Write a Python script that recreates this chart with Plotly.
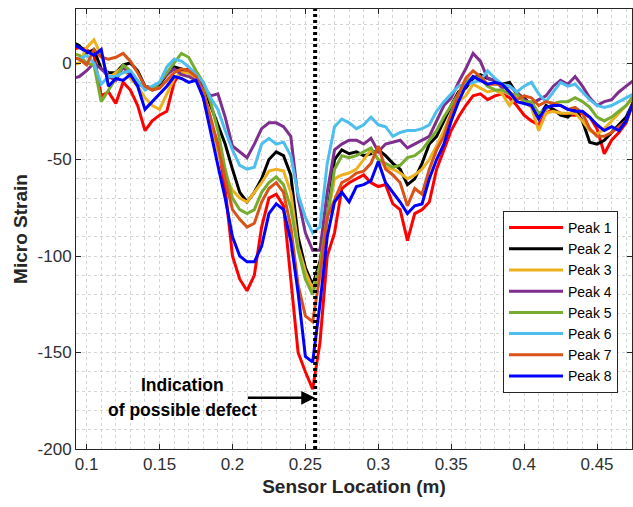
import plotly.graph_objects as go

x_loc = [round(0.09 + 0.005 * i, 3) for i in range(78)]

peak1 = [7, 8, 7, 4, -17, -15, -21, -10, -14, -22, -35, -30, -27, -25, -10, -4, -3, -5, -18, -30,
         -42, -65, -100, -112, -118, -110, -85, -70, -68, -74, -112, -150, -160, -169, -145, -100, -88, -65, -62, -60,
         -58, -62, -64, -63, -73, -76, -92, -78, -76, -72, -55, -45, -35, -28, -22, -17, -16, -19, -17, -16,
         -18, -22, -27, -30, -32, -26, -24, -26, -27, -27, -26, -28, -34, -47, -40, -36, -31, -20]
peak2 = [11, 9, 5, 7, -3, -5, -5, -1, 0, -4, -12, -13, -11, -6, -2, -3, -5, -8, -12, -22,
         -31, -42, -55, -67, -72, -67, -60, -50, -46, -48, -58, -90, -106, -115, -103, -80, -50, -45, -47, -46,
         -48, -47, -45, -48, -52, -55, -63, -60, -52, -42, -38, -30, -22, -15, -13, -8, -6, -8, -9, -11,
         -10, -16, -18, -22, -28, -22, -24, -27, -28, -24, -30, -41, -42, -40, -36, -32, -28, -20]
peak3 = [-1, 0, 8, 12, 4, -8, -5, -2, -8, -12, -18, -22, -24, -16, -8, -5, -5, -8, -14, -30,
         -46, -58, -66, -70, -72, -67, -62, -56, -55, -56, -67, -95, -108, -117, -105, -80, -60, -58, -57, -55,
         -50, -45, -50, -54, -55, -57, -60, -58, -55, -50, -43, -35, -26, -20, -17, -11, -13, -15, -14, -16,
         -22, -17, -20, -23, -35, -26, -25, -26, -26, -26, -30, -35, -37, -34, -30, -26, -22, -18]
peak4 = [-8, -7, -4, 0, -3, -7, -9, -2, -6, -11, -12, -13, -10, -6, -3, -6, -7, -9, -12, -17,
         -16, -28, -43, -46, -49, -42, -34, -31, -31, -33, -38, -70, -88, -97, -97, -67, -45, -42, -40, -40,
         -42, -39, -46, -42, -41, -40, -44, -42, -40, -38, -30, -22, -18, -10, -3, 5, 1, -8, -9, -13,
         -12, -15, -19, -21, -19, -17, -12, -9, -11, -7, -12, -18, -22, -20, -19, -15, -12, -9]
peak5 = [5, 4, 0, -1, -20, -14, -8, -1, -4, -10, -12, -14, -10, -5, 0, 5, 3, -4, -10, -20,
         -35, -55, -70, -76, -78, -76, -67, -62, -59, -63, -75, -97, -112, -120, -105, -80, -55, -48, -49, -48,
         -46, -44, -50, -52, -54, -53, -49, -48, -45, -40, -35, -28, -22, -16, -10, -7, -8, -12, -14, -14,
         -16, -16, -20, -20, -26, -24, -21, -20, -20, -18, -20, -23, -28, -30, -28, -25, -22, -17]
peak6 = [3, 2, 4, 0, -11, -7, -7, -5, -4, -9, -14, -12, -10, -2, 2, 1, -2, -6, -10, -18,
         -24, -35, -45, -53, -55, -54, -42, -39, -42, -41, -48, -68, -80, -88, -85, -52, -33, -29, -31, -34,
         -32, -28, -32, -33, -38, -36, -35, -35, -34, -32, -25, -20, -16, -12, -11, -10, -9, -4, -8, -11,
         -12, -15, -12, -10, -16, -20, -15, -10, -12, -11, -15, -19, -22, -23, -22, -20, -18, -16]
peak7 = [3, 2, -1, 7, 3, 2, 3, 5, 1, -5, -12, -14, -13, -9, -5, -3, -4, -7, -15, -28,
         -43, -60, -76, -81, -85, -83, -72, -65, -62, -67, -85, -115, -131, -134, -110, -80, -71, -62, -60, -57,
         -56, -52, -43, -55, -58, -62, -74, -65, -68, -55, -45, -38, -26, -16, -8, -4, -7, -11, -11, -11,
         -15, -19, -17, -18, -22, -20, -21, -22, -24, -23, -26, -34, -38, -38, -36, -33, -30, -20]
peak8 = [10, 8, 6, 4, 7, -12, -8, -9, -6, -12, -24, -20, -16, -12, -7, -8, -10, -9, -18, -36,
         -53, -70, -90, -100, -103, -103, -95, -78, -73, -76, -92, -119, -152, -155, -125, -90, -72, -67, -72, -64,
         -63, -61, -51, -62, -67, -72, -78, -74, -73, -60, -50, -42, -30, -20, -12, -7, -9, -11, -10, -11,
         -15, -20, -21, -22, -29, -23, -22, -22, -24, -25, -25, -28, -32, -35, -33, -35, -30, -20]

series_names = ["Peak 1", "Peak 2", "Peak 3", "Peak 4", "Peak 5", "Peak 6", "Peak 7", "Peak 8"]
series_values = [peak1, peak2, peak3, peak4, peak5, peak6, peak7, peak8]
series_colors = ["#FF0000", "#000000", "#EDB120", "#7E2F8E", "#77AC30", "#4DBEEE", "#D95319", "#0000FF"]

defect_x = 0.2567
x_ticks = [0.1, 0.15, 0.2, 0.25, 0.3, 0.35, 0.4, 0.45]
x_tick_text = ["0.1", "0.15", "0.2", "0.25", "0.3", "0.35", "0.4", "0.45"]
y_ticks = [-200, -150, -100, -50, 0]
y_tick_text = ["-200", "-150", "-100", "-50", "0"]

fig = go.Figure()
for name, vals, col in zip(series_names, series_values, series_colors):
    fig.add_trace(go.Scatter(x=x_loc, y=vals, mode="lines", name=name,
                             line=dict(color=col, width=3)))

# dotted defect line
fig.add_shape(type="line", xref="x", yref="paper", x0=defect_x, x1=defect_x, y0=0, y1=1,
              line=dict(color="black", width=4, dash="3px,3px"), layer="above")

font_main = "Liberation Sans, Arial, sans-serif"
fig.add_annotation(x=0.2566, y=-173.5, ax=0.2095, ay=-173.5, xref="x", yref="y", axref="x", ayref="y",
                   text="", showarrow=True, arrowhead=2, arrowsize=1.1, arrowwidth=2.5, arrowcolor="black")
fig.add_annotation(x=0.1656, y=-166.7, xref="x", yref="y", text="<b>Indication</b>", showarrow=False,
                   font=dict(family=font_main, size=17.5, color="black"))
fig.add_annotation(x=0.1656, y=-179.6, xref="x", yref="y", text="<b>of possible defect</b>", showarrow=False,
                   font=dict(family=font_main, size=17.5, color="black"))

axis_common = dict(showline=True, linecolor="#262626", linewidth=1, mirror="ticks",
                   ticks="inside", ticklen=5, tickcolor="#262626",
                   showgrid=True, gridcolor="#d4d4d4", griddash="dot", gridwidth=1,
                   zeroline=False,
                   tickfont=dict(family=font_main, size=17, color="#303030"))

fig.update_xaxes(range=[0.0927, 0.474], tickvals=x_ticks, ticktext=x_tick_text,
                 minor=dict(dtick=0.01, showgrid=True, gridcolor="#d4d4d4", griddash="dot", ticks=""),
                 title=dict(text="<b>Sensor Location (m)</b>", font=dict(family=font_main, size=19, color="#262626"),
                            standoff=6),
                 **axis_common)
fig.update_yaxes(range=[-200, 28], tickvals=y_ticks, ticktext=y_tick_text,
                 minor=dict(dtick=10, showgrid=True, gridcolor="#d4d4d4", griddash="dot", ticks=""),
                 title=dict(text="<b>Micro Strain</b>", font=dict(family=font_main, size=19, color="#262626"),
                            standoff=4),
                 **axis_common)

plot_w = 633 - 76 - 1
plot_h = 507 - 9 - 58
fig.update_layout(
    width=633, height=507,
    margin=dict(l=76, r=1, t=9, b=58, autoexpand=False),
    plot_bgcolor="white", paper_bgcolor="white",
    font=dict(family=font_main),
    legend=dict(x=(503 - 76) / plot_w, y=(449 - 211) / plot_h, xanchor="left", yanchor="top",
                bgcolor="white", bordercolor="#262626", borderwidth=1,
                font=dict(family=font_main, size=14, color="black"),
                itemwidth=54, tracegroupgap=0),
    showlegend=True,
)

fig.write_html("out.html")
